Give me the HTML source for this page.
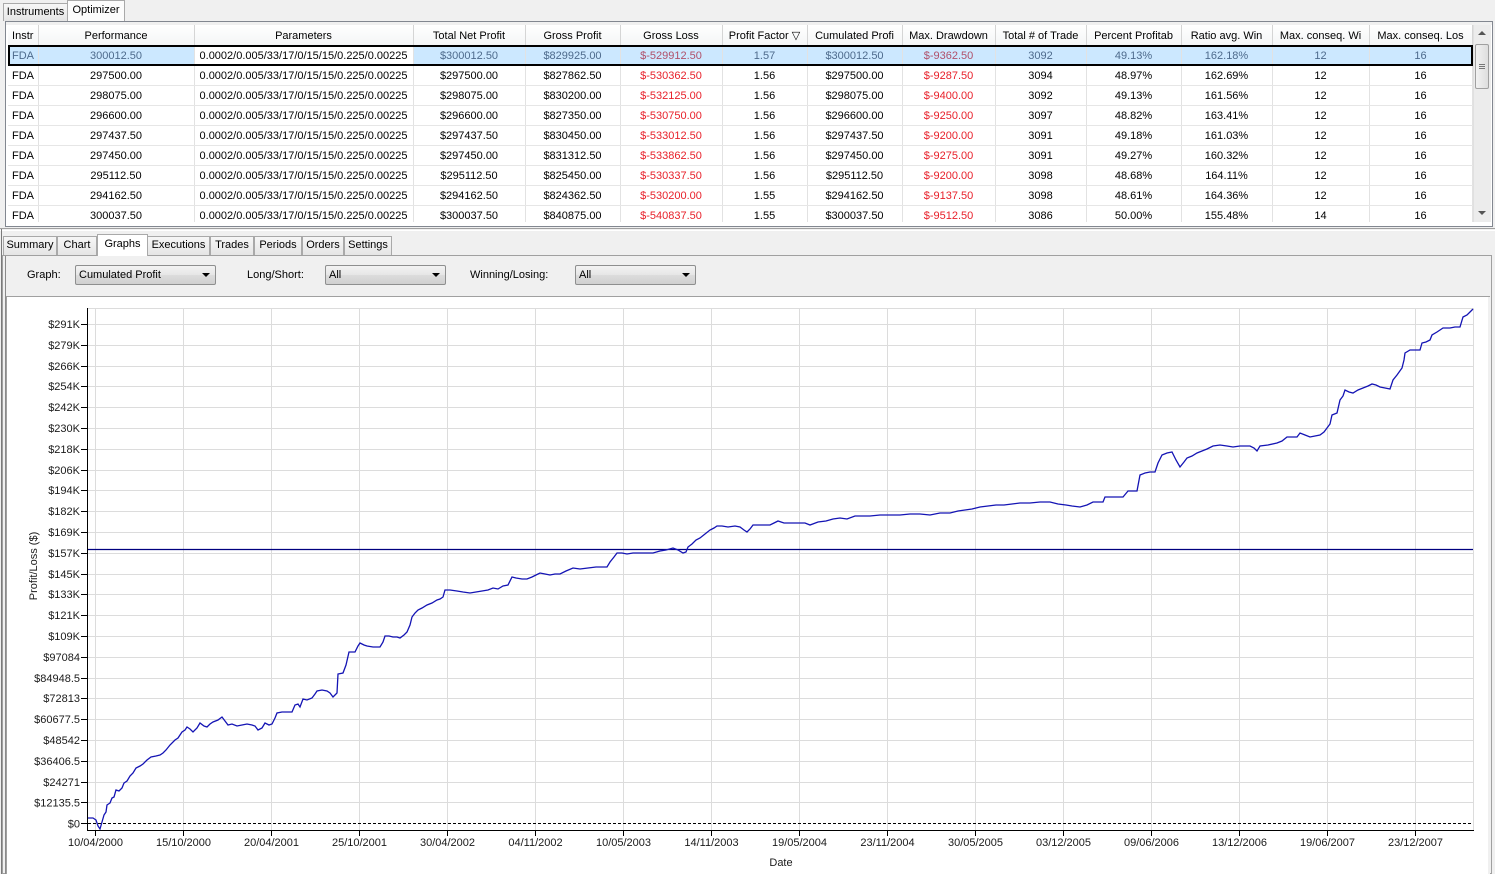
<!DOCTYPE html>
<html><head><meta charset="utf-8">
<style>
*{margin:0;padding:0;box-sizing:border-box}
body{width:1495px;height:874px;overflow:hidden;background:#f0f0f0;font-family:"Liberation Sans",sans-serif;font-size:11px;color:#000;position:relative}
.a{position:absolute}
.tab{position:absolute;border:1px solid #a9a9a9;border-bottom:none;background:linear-gradient(#f7f7f7,#e5e5e5);font-size:11px;line-height:17px;text-align:center}
.tab.sel{background:#fcfcfc}
table{border-collapse:collapse;table-layout:fixed;position:absolute;left:8px;top:25px}
td{height:20px;padding:2px 0 0 0;border-right:1px solid #e2e2e2;border-bottom:1px solid #e6e6e6;text-align:center;white-space:nowrap;overflow:hidden;font-size:11px;background:#fff}
th{height:20px;padding:2px 0 0 0;font-weight:normal;border-right:1px solid #d5d5d5;border-bottom:1px solid #d5d5d5;background:linear-gradient(#ffffff,#f4f5f6);white-space:nowrap;overflow:hidden;font-size:11px}
td.l{text-align:left;padding-left:4px}
.r{color:#e8202a}
tr.s td{background:#cce8ff;color:#4d6a8c}
tr.s td.w{background:#fff;color:#000}
tr.s td.r{color:#b0506a}
.combo{position:absolute;height:20px;border:1px solid #8e8f8f;border-radius:2px;background:linear-gradient(#f3f3f3,#e6e6e6 50%,#dcdcdc 51%,#d0d0d0);font-size:11px;line-height:18px;padding-left:3px}
.combo:after{content:"";position:absolute;right:5px;top:7px;border-left:4px solid transparent;border-right:4px solid transparent;border-top:4px solid #000}
</style></head><body>

<!-- top tabs -->
<div class="tab" style="left:3px;top:3px;width:65px;height:18px;">Instruments</div>
<div class="tab sel" style="left:67px;top:0;width:58px;height:21px;line-height:19px;">Optimizer</div>

<!-- table frame -->
<div class="a" style="left:5px;top:21px;width:1488px;height:206px;border:1px solid #828790;background:#fff"></div>
<div class="a" style="left:6px;top:22px;width:1486px;height:3px;background:#f0f0f0"></div>

<table>
<colgroup>
<col style="width:30px"><col style="width:156px"><col style="width:219px"><col style="width:112px"><col style="width:95px"><col style="width:102px"><col style="width:85px"><col style="width:95px"><col style="width:93px"><col style="width:91px"><col style="width:95px"><col style="width:91px"><col style="width:97px"><col style="width:103px">
</colgroup>
<tr><th>Instr</th><th>Performance</th><th>Parameters</th><th>Total Net Profit</th><th>Gross Profit</th><th>Gross Loss</th><th>Profit Factor &#9661;</th><th>Cumulated Profi</th><th>Max. Drawdown</th><th>Total # of Trade</th><th>Percent Profitab</th><th>Ratio avg. Win</th><th>Max. conseq. Wi</th><th>Max. conseq. Los</th></tr>
<tr class="s"><td class="l">FDA</td><td>300012.50</td><td class="w">0.0002/0.005/33/17/0/15/15/0.225/0.00225</td><td>$300012.50</td><td>$829925.00</td><td class="r">$-529912.50</td><td>1.57</td><td>$300012.50</td><td class="r">$-9362.50</td><td>3092</td><td>49.13%</td><td>162.18%</td><td>12</td><td>16</td></tr>
<tr><td class="l">FDA</td><td>297500.00</td><td>0.0002/0.005/33/17/0/15/15/0.225/0.00225</td><td>$297500.00</td><td>$827862.50</td><td class="r">$-530362.50</td><td>1.56</td><td>$297500.00</td><td class="r">$-9287.50</td><td>3094</td><td>48.97%</td><td>162.69%</td><td>12</td><td>16</td></tr>
<tr><td class="l">FDA</td><td>298075.00</td><td>0.0002/0.005/33/17/0/15/15/0.225/0.00225</td><td>$298075.00</td><td>$830200.00</td><td class="r">$-532125.00</td><td>1.56</td><td>$298075.00</td><td class="r">$-9400.00</td><td>3092</td><td>49.13%</td><td>161.56%</td><td>12</td><td>16</td></tr>
<tr><td class="l">FDA</td><td>296600.00</td><td>0.0002/0.005/33/17/0/15/15/0.225/0.00225</td><td>$296600.00</td><td>$827350.00</td><td class="r">$-530750.00</td><td>1.56</td><td>$296600.00</td><td class="r">$-9250.00</td><td>3097</td><td>48.82%</td><td>163.41%</td><td>12</td><td>16</td></tr>
<tr><td class="l">FDA</td><td>297437.50</td><td>0.0002/0.005/33/17/0/15/15/0.225/0.00225</td><td>$297437.50</td><td>$830450.00</td><td class="r">$-533012.50</td><td>1.56</td><td>$297437.50</td><td class="r">$-9200.00</td><td>3091</td><td>49.18%</td><td>161.03%</td><td>12</td><td>16</td></tr>
<tr><td class="l">FDA</td><td>297450.00</td><td>0.0002/0.005/33/17/0/15/15/0.225/0.00225</td><td>$297450.00</td><td>$831312.50</td><td class="r">$-533862.50</td><td>1.56</td><td>$297450.00</td><td class="r">$-9275.00</td><td>3091</td><td>49.27%</td><td>160.32%</td><td>12</td><td>16</td></tr>
<tr><td class="l">FDA</td><td>295112.50</td><td>0.0002/0.005/33/17/0/15/15/0.225/0.00225</td><td>$295112.50</td><td>$825450.00</td><td class="r">$-530337.50</td><td>1.56</td><td>$295112.50</td><td class="r">$-9200.00</td><td>3098</td><td>48.68%</td><td>164.11%</td><td>12</td><td>16</td></tr>
<tr><td class="l">FDA</td><td>294162.50</td><td>0.0002/0.005/33/17/0/15/15/0.225/0.00225</td><td>$294162.50</td><td>$824362.50</td><td class="r">$-530200.00</td><td>1.55</td><td>$294162.50</td><td class="r">$-9137.50</td><td>3098</td><td>48.61%</td><td>164.36%</td><td>12</td><td>16</td></tr>
<tr><td class="l">FDA</td><td>300037.50</td><td>0.0002/0.005/33/17/0/15/15/0.225/0.00225</td><td>$300037.50</td><td>$840875.00</td><td class="r">$-540837.50</td><td>1.55</td><td>$300037.50</td><td class="r">$-9512.50</td><td>3086</td><td>50.00%</td><td>155.48%</td><td>14</td><td>16</td></tr>
</table>
<!-- selected row outline -->
<div class="a" style="left:8px;top:45px;width:1465px;height:21px;border:2px solid #000"></div>
<!-- mask bottom of table (clip) -->
<div class="a" style="left:6px;top:222px;width:1486px;height:4px;background:#fff"></div>
<!-- scrollbar -->
<div class="a" style="left:1473px;top:25px;width:18px;height:197px;background:#ececec;border-left:1px solid #e0e0e0"></div>
<div class="a" style="left:1478px;top:31px;border-left:4px solid transparent;border-right:4px solid transparent;border-bottom:4px solid #555"></div>
<div class="a" style="left:1475px;top:44px;width:14px;height:45px;border:1px solid #a0a0a0;border-radius:2px;background:linear-gradient(90deg,#f2f2f2,#dedede)"></div>
<div class="a" style="left:1479px;top:64px;width:6px;height:1px;background:#777"></div>
<div class="a" style="left:1479px;top:66px;width:6px;height:1px;background:#777"></div>
<div class="a" style="left:1479px;top:68px;width:6px;height:1px;background:#777"></div>
<div class="a" style="left:1478px;top:211px;border-left:4px solid transparent;border-right:4px solid transparent;border-top:4px solid #555"></div>

<!-- splitter -->
<div class="a" style="left:0;top:228px;width:1495px;height:1px;background:#a0a0a0"></div>
<div class="a" style="left:0;top:230px;width:1495px;height:1px;background:#fff"></div>

<!-- lower tabs -->
<div class="a" style="left:2px;top:255px;width:1490px;height:619px;border:1px solid #a0a0a0;background:#f0f0f0"></div>
<div class="tab" style="left:3px;top:236px;width:54px;height:19px;">Summary</div>
<div class="tab" style="left:57px;top:236px;width:40px;height:19px;">Chart</div>
<div class="tab" style="left:147px;top:236px;width:63px;height:19px;">Executions</div>
<div class="tab" style="left:210px;top:236px;width:44px;height:19px;">Trades</div>
<div class="tab" style="left:254px;top:236px;width:48px;height:19px;">Periods</div>
<div class="tab" style="left:302px;top:236px;width:42px;height:19px;">Orders</div>
<div class="tab" style="left:344px;top:236px;width:48px;height:19px;">Settings</div>
<div class="tab sel" style="left:97px;top:234px;width:51px;height:22px;background:#fff;line-height:19px">Graphs</div>

<!-- controls -->
<div class="a" style="left:27px;top:269px;">Graph:</div>
<div class="combo" style="left:75px;top:265px;width:141px;">Cumulated Profit</div>
<div class="a" style="left:247px;top:269px;">Long/Short:</div>
<div class="combo" style="left:325px;top:265px;width:121px;">All</div>
<div class="a" style="left:470px;top:269px;">Winning/Losing:</div>
<div class="combo" style="left:575px;top:265px;width:121px;">All</div>

<!-- left double border -->
<div class="a" style="left:1px;top:229px;width:1px;height:645px;background:#7a7a7a"></div>
<div class="a" style="left:5px;top:256px;width:1px;height:618px;background:#8a8a8a"></div>

<svg class="a" style="left:0;top:0" width="1495" height="874" xmlns="http://www.w3.org/2000/svg" font-family="Liberation Sans, sans-serif" font-size="11">
<rect x="6.5" y="296.5" width="1483" height="580" fill="#fff" stroke="#a0a0a0"/>
<rect x="1488" y="297" width="2" height="577" fill="#f0f0f0"/>
<g stroke="#dcdcdc" stroke-width="1">
<line x1="88" y1="308.5" x2="1473" y2="308.5"/>
<line x1="1473.5" y1="308" x2="1473.5" y2="830"/>
<line x1="88" x2="1473" y1="324.5" y2="324.5"/><line x1="88" x2="1473" y1="345.5" y2="345.5"/><line x1="88" x2="1473" y1="366.5" y2="366.5"/><line x1="88" x2="1473" y1="386.5" y2="386.5"/><line x1="88" x2="1473" y1="407.5" y2="407.5"/><line x1="88" x2="1473" y1="428.5" y2="428.5"/><line x1="88" x2="1473" y1="449.5" y2="449.5"/><line x1="88" x2="1473" y1="470.5" y2="470.5"/><line x1="88" x2="1473" y1="490.5" y2="490.5"/><line x1="88" x2="1473" y1="511.5" y2="511.5"/><line x1="88" x2="1473" y1="532.5" y2="532.5"/><line x1="88" x2="1473" y1="553.5" y2="553.5"/><line x1="88" x2="1473" y1="574.5" y2="574.5"/><line x1="88" x2="1473" y1="594.5" y2="594.5"/><line x1="88" x2="1473" y1="615.5" y2="615.5"/><line x1="88" x2="1473" y1="636.5" y2="636.5"/><line x1="88" x2="1473" y1="657.5" y2="657.5"/><line x1="88" x2="1473" y1="678.5" y2="678.5"/><line x1="88" x2="1473" y1="698.5" y2="698.5"/><line x1="88" x2="1473" y1="719.5" y2="719.5"/><line x1="88" x2="1473" y1="740.5" y2="740.5"/><line x1="88" x2="1473" y1="761.5" y2="761.5"/><line x1="88" x2="1473" y1="782.5" y2="782.5"/><line x1="88" x2="1473" y1="802.5" y2="802.5"/>
<line y1="308" y2="830" x1="95.5" x2="95.5"/><line y1="308" y2="830" x1="183.5" x2="183.5"/><line y1="308" y2="830" x1="271.5" x2="271.5"/><line y1="308" y2="830" x1="359.5" x2="359.5"/><line y1="308" y2="830" x1="447.5" x2="447.5"/><line y1="308" y2="830" x1="535.5" x2="535.5"/><line y1="308" y2="830" x1="623.5" x2="623.5"/><line y1="308" y2="830" x1="711.5" x2="711.5"/><line y1="308" y2="830" x1="799.5" x2="799.5"/><line y1="308" y2="830" x1="887.5" x2="887.5"/><line y1="308" y2="830" x1="975.5" x2="975.5"/><line y1="308" y2="830" x1="1063.5" x2="1063.5"/><line y1="308" y2="830" x1="1151.5" x2="1151.5"/><line y1="308" y2="830" x1="1239.5" x2="1239.5"/><line y1="308" y2="830" x1="1327.5" x2="1327.5"/><line y1="308" y2="830" x1="1415.5" x2="1415.5"/>
</g>
<line x1="88" y1="823.5" x2="1473" y2="823.5" stroke="#000" stroke-dasharray="3,2"/>
<line x1="88" y1="549.5" x2="1473" y2="549.5" stroke="#00007f" stroke-width="1.2"/>
<g stroke="#000" stroke-width="1">
<line x1="87.5" y1="308" x2="87.5" y2="831"/>
<line x1="87" y1="830.5" x2="1474" y2="830.5"/>
<line x1="81" x2="87" y1="823.5" y2="823.5"/><line x1="81" x2="87" y1="802.5" y2="802.5"/><line x1="81" x2="87" y1="782.5" y2="782.5"/><line x1="81" x2="87" y1="761.5" y2="761.5"/><line x1="81" x2="87" y1="740.5" y2="740.5"/><line x1="81" x2="87" y1="719.5" y2="719.5"/><line x1="81" x2="87" y1="698.5" y2="698.5"/><line x1="81" x2="87" y1="678.5" y2="678.5"/><line x1="81" x2="87" y1="657.5" y2="657.5"/><line x1="81" x2="87" y1="636.5" y2="636.5"/><line x1="81" x2="87" y1="615.5" y2="615.5"/><line x1="81" x2="87" y1="594.5" y2="594.5"/><line x1="81" x2="87" y1="574.5" y2="574.5"/><line x1="81" x2="87" y1="553.5" y2="553.5"/><line x1="81" x2="87" y1="532.5" y2="532.5"/><line x1="81" x2="87" y1="511.5" y2="511.5"/><line x1="81" x2="87" y1="490.5" y2="490.5"/><line x1="81" x2="87" y1="470.5" y2="470.5"/><line x1="81" x2="87" y1="449.5" y2="449.5"/><line x1="81" x2="87" y1="428.5" y2="428.5"/><line x1="81" x2="87" y1="407.5" y2="407.5"/><line x1="81" x2="87" y1="386.5" y2="386.5"/><line x1="81" x2="87" y1="366.5" y2="366.5"/><line x1="81" x2="87" y1="345.5" y2="345.5"/><line x1="81" x2="87" y1="324.5" y2="324.5"/>
<line y1="830" y2="836" x1="95.5" x2="95.5"/><line y1="830" y2="836" x1="183.5" x2="183.5"/><line y1="830" y2="836" x1="271.5" x2="271.5"/><line y1="830" y2="836" x1="359.5" x2="359.5"/><line y1="830" y2="836" x1="447.5" x2="447.5"/><line y1="830" y2="836" x1="535.5" x2="535.5"/><line y1="830" y2="836" x1="623.5" x2="623.5"/><line y1="830" y2="836" x1="711.5" x2="711.5"/><line y1="830" y2="836" x1="799.5" x2="799.5"/><line y1="830" y2="836" x1="887.5" x2="887.5"/><line y1="830" y2="836" x1="975.5" x2="975.5"/><line y1="830" y2="836" x1="1063.5" x2="1063.5"/><line y1="830" y2="836" x1="1151.5" x2="1151.5"/><line y1="830" y2="836" x1="1239.5" x2="1239.5"/><line y1="830" y2="836" x1="1327.5" x2="1327.5"/><line y1="830" y2="836" x1="1415.5" x2="1415.5"/>
</g>
<g fill="#1a1a1a" text-anchor="end">
<text x="80" y="827.5">$0</text><text x="80" y="806.5">$12135.5</text><text x="80" y="786">$24271</text><text x="80" y="765">$36406.5</text><text x="80" y="744">$48542</text><text x="80" y="723">$60677.5</text><text x="80" y="702">$72813</text><text x="80" y="682">$84948.5</text><text x="80" y="661">$97084</text><text x="80" y="640">$109K</text><text x="80" y="619">$121K</text><text x="80" y="598">$133K</text><text x="80" y="578">$145K</text><text x="80" y="557">$157K</text><text x="80" y="536">$169K</text><text x="80" y="515">$182K</text><text x="80" y="494">$194K</text><text x="80" y="474">$206K</text><text x="80" y="453">$218K</text><text x="80" y="432">$230K</text><text x="80" y="411">$242K</text><text x="80" y="390">$254K</text><text x="80" y="370">$266K</text><text x="80" y="349">$279K</text><text x="80" y="328">$291K</text>
</g>
<g fill="#1a1a1a" text-anchor="middle">
<text x="95.5" y="846">10/04/2000</text><text x="183.5" y="846">15/10/2000</text><text x="271.5" y="846">20/04/2001</text><text x="359.5" y="846">25/10/2001</text><text x="447.5" y="846">30/04/2002</text><text x="535.5" y="846">04/11/2002</text><text x="623.5" y="846">10/05/2003</text><text x="711.5" y="846">14/11/2003</text><text x="799.5" y="846">19/05/2004</text><text x="887.5" y="846">23/11/2004</text><text x="975.5" y="846">30/05/2005</text><text x="1063.5" y="846">03/12/2005</text><text x="1151.5" y="846">09/06/2006</text><text x="1239.5" y="846">13/12/2006</text><text x="1327.5" y="846">19/06/2007</text><text x="1415.5" y="846">23/12/2007</text>
<text x="781" y="866">Date</text>
<text transform="translate(37,566) rotate(-90)">Profit/Loss ($)</text>
</g>
<polyline fill="none" stroke="#1414b4" stroke-width="1.3" stroke-linejoin="miter" points="88,818 93,818 96,820 98,826 100,829 102,822 104,815 106,812 107,805 110,803 112,798 114,797 116,790 119,791 122,788 124,783 127,781 130,776 133,773 136,768 140,766 143,764 147,760 151,757 156,756 160,755 163,753 166,750 170,745 175,740 178,738 182,732 185,730 187,727 190,729 193,732 197,728 200,723 204,726 207,727 210,724 213,722 218,720 222,717 225,721 228,725 232,724 237,726 242,725 247,724 252,725 255,726 258,730 262,728 265,723 269,725 272,724 275,718 277,713 282,712 288,712 292,712 295,705 298,704 300,707 303,699 307,700 312,698 315,694 317,691 322,690 327,691 330,693 333,697 336,694 337,693 338,674 343,673 346,665 349,652 352,652 355,652 358,646 360,643 364,645 367,646 373,647 380,647 383,642 385,636 389,636 393,637 397,637 400,638 404,635 407,632 410,625 412,617 415,613 418,610 422,608 427,605 432,603 437,600 440,599 443,597 445,590 450,590 457,591 463,592 470,593 476,592 482,591 488,590 493,588 498,589 503,586 508,585 512,577 516,578 522,579 527,579 532,577 536,575 540,573 545,574 550,575 555,574 560,574 566,571 573,568 580,569 588,568 596,567 602,567 607,567 610,562 614,557 617,553 622,553 627,554 633,553 640,553 646,553 653,553 660,551 666,550 673,548 678,550 683,553 686,552 688,547 692,544 696,540 700,538 705,534 710,530 714,528 717,526 722,526 728,527 735,526 740,527 744,530 747,532 750,529 753,525 758,525 764,525 770,525 774,523 778,521 784,523 790,523 797,523 805,523 810,525 818,522 826,521 833,519 840,518 847,519 855,516 862,516 870,516 880,515 890,515 900,515 910,514 920,514 930,515 940,513 950,513 958,511 965,510 972,509 980,507 988,506 996,505 1004,505 1012,504 1020,503 1030,503 1040,502 1050,502 1058,504 1066,505 1072,506 1080,507 1087,505 1093,502 1100,502 1103,502 1105,497 1112,497 1118,497 1123,497 1128,491 1132,491 1137,491 1140,475 1145,473 1150,472 1155,472 1158,463 1162,455 1167,453 1172,452 1176,460 1180,467 1184,462 1187,458 1192,456 1197,453 1202,451 1207,449 1213,446 1220,445 1227,446 1233,447 1240,446 1250,446 1254,448 1257,451 1260,446 1268,445 1277,443 1282,441 1287,437 1292,437 1297,437 1300,433 1305,435 1310,437 1315,436 1320,435 1324,432 1327,428 1330,424 1332,415 1337,413 1340,400 1343,396 1345,390 1349,392 1353,393 1358,390 1363,388 1368,386 1372,384 1376,385 1380,387 1385,388 1390,389 1393,380 1397,375 1402,368 1404,360 1405,353 1410,350 1415,350 1420,350 1422,343 1426,342 1430,340 1432,335 1437,332 1440,330 1443,328 1450,328 1455,327 1460,327 1463,317 1467,315 1470,312 1473,309"/>
</svg>
</body></html>
